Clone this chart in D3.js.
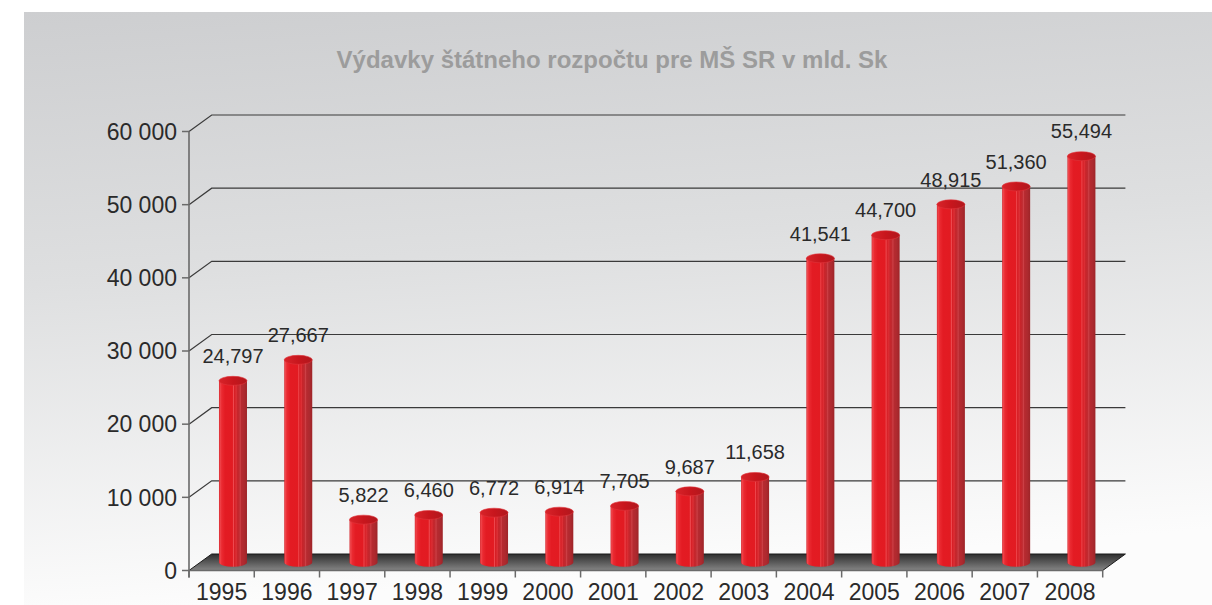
<!DOCTYPE html>
<html>
<head>
<meta charset="utf-8">
<script src="https://cdn.jsdelivr.net/npm/d3@7"></script>
<style>
html,body{margin:0;padding:0;background:#fff;}
svg{display:block;font-family:"Liberation Sans",Arial,sans-serif;}
</style>
</head>
<body>
<svg id="chart" width="1212" height="605"></svg>
<script>
const title = "Výdavky štátneho rozpočtu pre MŠ SR v mld. Sk";
const years = ["1995","1996","1997","1998","1999","2000","2001","2002","2003","2004","2005","2006","2007","2008"];
const values = [24797, 27667, 5822, 6460, 6772, 6914, 7705, 9687, 11658, 41541, 44700, 48915, 51360, 55494];
const yTicks = [0, 10000, 20000, 30000, 40000, 50000, 60000];
const yTickLabels = ["0", "10 000", "20 000", "30 000", "40 000", "50 000", "60 000"];

(function(){
const svg = d3.select("#chart");
const W = 1212, H = 605;

// geometry
const pLeft = 189, pRight = 1102.7, pBottom = 570.5, pTop = 131.5;
const depthX = 22.7, depthY = -16.5;
const x = d3.scaleBand().domain(years).range([pLeft, pRight]).padding(0);
const y = d3.scaleLinear().domain([0, 60000]).range([pBottom, pTop]);

const defs = svg.append("defs");
const bg = defs.append("linearGradient").attr("id","bg").attr("x1","0").attr("y1","0").attr("x2","0.15").attr("y2","1");
bg.append("stop").attr("offset","0%").attr("stop-color","#cdced0");
bg.append("stop").attr("offset","45%").attr("stop-color","#dedfe0");
bg.append("stop").attr("offset","100%").attr("stop-color","#fcfcfc");

const floorG = defs.append("linearGradient").attr("id","floor").attr("x1","0").attr("y1","0").attr("x2","0").attr("y2","1");
floorG.append("stop").attr("offset","0%").attr("stop-color","#2e2e2e");
floorG.append("stop").attr("offset","100%").attr("stop-color","#858585");

const cyl = defs.append("linearGradient").attr("id","cyl").attr("x1","0").attr("y1","0").attr("x2","1").attr("y2","0");
[["0%","#d4242a"],["4%","#f0464c"],["10%","#ea2a31"],["22%","#e31b23"],["48%","#e21b22"],["52%","#ee4a50"],["55%","#d61e25"],["62%","#dc3036"],["65%","#c8242a"],["72%","#c02a30"],["76%","#cc4046"],["80%","#b72a30"],["90%","#ad2a2f"],["100%","#9e2428"]]
  .forEach(([o,c]) => cyl.append("stop").attr("offset",o).attr("stop-color",c));

const capG = defs.append("linearGradient").attr("id","cap").attr("x1","0").attr("y1","0").attr("x2","1").attr("y2","0");
capG.append("stop").attr("offset","0%").attr("stop-color","#d8242a");
capG.append("stop").attr("offset","50%").attr("stop-color","#c8161d");
capG.append("stop").attr("offset","100%").attr("stop-color","#b0181e");

// background
svg.append("rect").attr("x",24).attr("y",12).attr("width",W-24).attr("height",H-12).attr("fill","url(#bg)");

// title
svg.append("text").attr("x",612).attr("y",68).attr("text-anchor","middle")
  .attr("font-size",24).attr("font-weight","bold").attr("fill","#9c9c9c").text(title);

// gridlines (left wall diagonal + back wall horizontal)
const grid = svg.append("g");
yTicks.filter(t => t > 0).forEach(t => {
  grid.append("path")
    .attr("d", `M${pLeft},${y(t)} L${pLeft+depthX},${y(t)+depthY} L${pRight+depthX},${y(t)+depthY}`)
    .attr("fill","none").attr("stroke","#3a3a3a").attr("stroke-width",1.2);
});

// floor
svg.append("path")
  .attr("d", `M${pLeft},${pBottom} L${pLeft+depthX},${pBottom+depthY} L${pRight+depthX},${pBottom+depthY} L${pRight},${pBottom} Z`)
  .attr("fill","url(#floor)").attr("stroke","#1a1a1a").attr("stroke-width",1);

// y axis
svg.append("line").attr("x1",pLeft).attr("x2",pLeft).attr("y1",pTop).attr("y2",pBottom+7)
  .attr("stroke","#6a6a6a").attr("stroke-width",1.6);
const yAx = svg.append("g");
yTicks.forEach((t,i) => {
  yAx.append("line").attr("x1",pLeft-7).attr("x2",pLeft).attr("y1",y(t)).attr("y2",y(t))
    .attr("stroke","#6a6a6a").attr("stroke-width",1.5);
  yAx.append("text").attr("x",pLeft-12).attr("y",y(t)).attr("dy","0.36em").attr("text-anchor","end")
    .attr("font-size",23).attr("fill","#2a2a2a").text(yTickLabels[i]);
});

// x axis
svg.append("line").attr("x1",pLeft).attr("x2",pRight).attr("y1",pBottom).attr("y2",pBottom)
  .attr("stroke","#6a6a6a").attr("stroke-width",1.5);
const xAx = svg.append("g");
d3.range(years.length + 1).forEach(i => {
  const xx = pLeft + i * x.bandwidth();
  xAx.append("line").attr("x1",xx).attr("x2",xx).attr("y1",pBottom).attr("y2",pBottom+7)
    .attr("stroke","#6a6a6a").attr("stroke-width",1.5);
});
years.forEach(yr => {
  xAx.append("text").attr("x", x(yr) + x.bandwidth()/2).attr("y", 600).attr("text-anchor","middle")
    .attr("font-size",23).attr("fill","#2a2a2a").text(yr);
});

// cylinders
const rx = 14, ry = 4.5;
const bars = svg.append("g");
years.forEach((yr,i) => {
  const cx = x(yr) + x.bandwidth()/2 + depthX/2;
  const yb = y(0) + depthY/2;
  const yt = y(values[i]) + depthY/2;
  bars.append("path")
    .attr("d", `M${cx-rx},${yt} L${cx-rx},${yb} A${rx},${ry} 0 0 0 ${cx+rx},${yb} L${cx+rx},${yt} Z`)
    .attr("fill","url(#cyl)");
  bars.append("ellipse").attr("cx",cx).attr("cy",yt).attr("rx",rx).attr("ry",ry)
    .attr("fill","url(#cap)").attr("stroke","#e0343a").attr("stroke-width",0.6);
  bars.append("text").attr("x",cx).attr("y",yt-25).attr("dy","0.36em").attr("text-anchor","middle")
    .attr("font-size",20).attr("fill","#2a2a2a").text(d3.format(",")(values[i]));
});
})();
</script>
</body>
</html>
